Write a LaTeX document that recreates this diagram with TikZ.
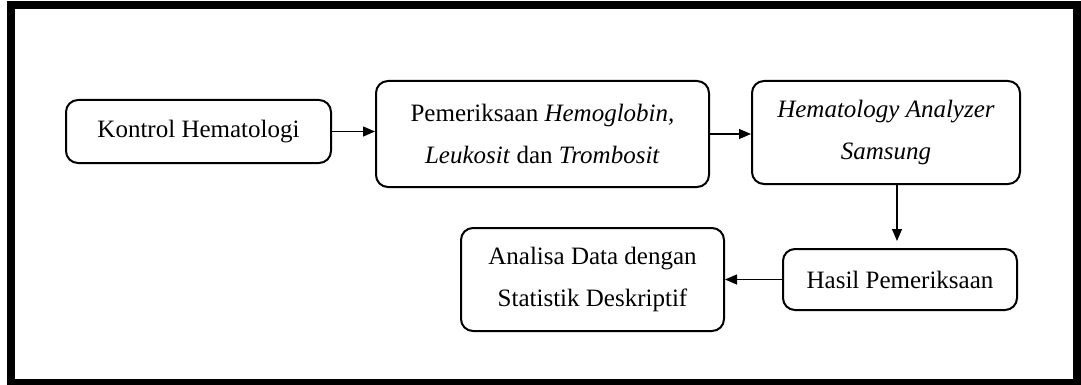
\documentclass[tikz,border=0pt]{standalone}
\usepackage{fontspec}
\setmainfont{Liberation Serif}
\usetikzlibrary{arrows.meta}
\begin{document}
\begin{tikzpicture}[x=0.5pt,y=-0.5pt,
    box/.style={draw,line width=1pt,rounded corners=6pt,align=center,inner sep=0pt,font=\fontsize{12.5}{21}\selectfont},
    flow/.style={-{Triangle[length=6pt,width=5pt]},line width=0.6pt}]
    \useasboundingbox (0,0) rectangle (1081,385);
    \draw[line width=4pt] (11,5.5) rectangle (1077,382.5);
    \node[box,minimum width=132.5pt,minimum height=31.5pt] (kontrol) at (198.5,131.5) {Kontrol Hematologi};
    \node[box,minimum width=166.5pt,minimum height=53pt] (periksa) at (542.5,134) {Pemeriksaan \textit{Hemoglobin,}\\\textit{Leukosit} dan \textit{Trombosit}};
    \node[box,minimum width=134pt,minimum height=51.5pt] (analyzer) at (886,132.5) {\textit{Hematology Analyzer}\\\textit{Samsung}};
    \node[box,minimum width=117pt,minimum height=30.5pt] (hasil) at (900,279.5) {Hasil Pemeriksaan};
    \node[box,minimum width=131.5pt,minimum height=51.5pt] (analisa) at (592.5,279.5) {Analisa Data dengan\\Statistik Deskriptif};
    \draw[flow] (kontrol.east) -- (kontrol.east -| periksa.west);
    \draw[flow] (periksa.east) -- (periksa.east -| analyzer.west);
    \draw[flow,shorten >=3.5pt] ([xshift=-1.5pt]analyzer.south -| hasil.north) -- ([xshift=-1.5pt]hasil.north);
    \draw[flow] (hasil.west) -- (analisa.east);
\end{tikzpicture}
\end{document}
